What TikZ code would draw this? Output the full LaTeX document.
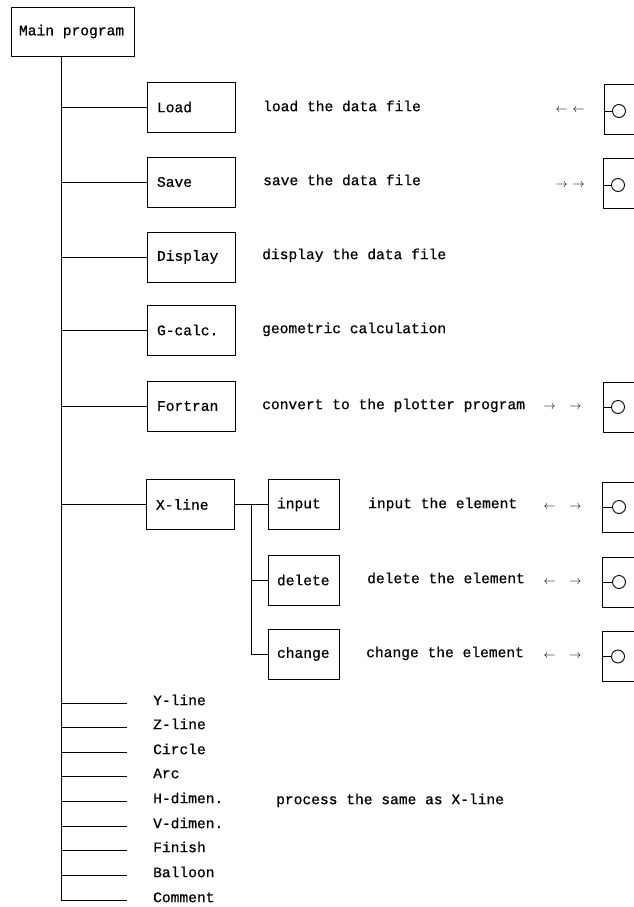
\documentclass[tikz,border=0pt]{standalone}
\usepackage{fontspec}
\newfontfamily\pmono[FakeBold=0.6]{Liberation Mono}
\newcommand\lbx[2]{\makebox[#1][l]{#2}}
\begin{document}
\begin{tikzpicture}[x=1pt,y=-1pt,
  every node/.style={font=\pmono\fontsize{14.6}{17}\selectfont},
  wire/.style={line width=0.9pt},
  box/.style={draw,line width=0.9pt,rectangle,minimum height=50pt,inner xsep=10pt},
  subbox/.style={box,inner xsep=9pt},
  mainbox/.style={box,inner xsep=8pt,minimum height=49pt},
  desc/.style={anchor=mid west,inner sep=0pt},
  arr/.style={anchor=center,inner sep=0pt,font=\fontsize{13}{15}\selectfont},
  rbox/.style={draw,line width=0.9pt,rectangle,minimum width=60pt,minimum height=50pt,anchor=west,inner sep=0pt},
  port/.style={draw,circle,line width=0.9pt,minimum size=13pt,inner sep=0pt}
]
\useasboundingbox (0,0) rectangle (634,907);
\clip (0,0) rectangle (634,907);

% main box and trunk
\node[mainbox] (main) at (72.5,31.5) {\lbx{107pt}{Main program}};
\coordinate (tbot) at (61,899);

% first-level boxes
\node[box] (load)  at (191,107) {\lbx{68pt}{Load}};
\node[box] (save)  at (191,182) {\lbx{68pt}{Save}};
\node[box] (disp)  at (191,257) {\lbx{68pt}{Display}};
\node[box] (gcalc) at (191,330) {\lbx{68pt}{G-calc.}};
\node[box] (fort)  at (191,406) {\lbx{68pt}{Fortran}};
\node[box] (xline) at (190,504.5) {\lbx{68pt}{X-line}};

% X-line sub boxes
\node[subbox] (input)  at (303.5,504.5) {\lbx{53pt}{input}};
\node[subbox] (delete) at (303.5,580) {\lbx{53pt}{delete}};
\node[subbox] (change) at (303.5,654) {\lbx{53pt}{change}};
\coordinate (sbot) at (251,654);

% descriptions
\node[desc] (dload)   at (263,109) {load the data file};
\node[desc] (dsave)   at (263,183) {save the data file};
\node[desc] (ddisp)   at (262,257) {display the data file};
\node[desc] (dgcalc)  at (262,331) {geometric calculation};
\node[desc] (dfort)   at (262,407) {convert to the plotter program};
\node[desc] (dinput)  at (368,506) {input the element};
\node[desc] (ddelete) at (367,581) {delete the element};
\node[desc] (dchange) at (366,655) {change the element};
\node[desc] (dsame)   at (276,802) {process the same as X-line};

% arrows
\node[arr] (aload)   at (570,110) {$\leftarrow$\hspace{5pt}$\leftarrow$};
\node[arr] (asave)   at (570,185) {$\rightarrow$\hspace{5pt}$\rightarrow$};
\node[arr] (afort)   at (562.5,407) {$\rightarrow$\hspace{14pt}$\rightarrow$};
\node[arr] (ainput)  at (562.5,507) {$\leftarrow$\hspace{14pt}$\rightarrow$};
\node[arr] (adelete) at (562.5,582) {$\leftarrow$\hspace{14pt}$\rightarrow$};
\node[arr] (achange) at (562.5,656) {$\leftarrow$\hspace{14pt}$\rightarrow$};

% right-side device boxes
\node[rbox] (rload)   at (604,109) {};
\node[port] (pload)   at (619,111) {};
\node[rbox] (rsave)   at (603,183.5) {};
\node[port] (psave)   at (618,185) {};
\node[rbox] (rfort)   at (603,407) {};
\node[port] (pfort)   at (618,407) {};
\node[rbox] (rinput)  at (602,507) {};
\node[port] (pinput)  at (619,507) {};
\node[rbox] (rdelete) at (602,582) {};
\node[port] (pdelete) at (619,582) {};
\node[rbox] (rchange) at (602,656.5) {};
\node[port] (pchange) at (618,656.5) {};
\foreach \r/\p in {rload/pload,rsave/psave,rfort/pfort,rinput/pinput,rdelete/pdelete,rchange/pchange}
  \draw[wire] (\r.west |- \p.west) -- (\p.west);

% bottom list
\node[desc] (ylab) at (153,703) {Y-line};
\node[desc] (zlab) at (153,727) {Z-line};
\node[desc] (circ) at (153,752) {Circle};
\node[desc] (arc)  at (153,776) {Arc};
\node[desc] (hdim) at (153,801) {H-dimen.};
\node[desc] (vdim) at (153,826) {V-dimen.};
\node[desc] (fin)  at (153,850) {Finish};
\node[desc] (ball) at (153,875) {Balloon};
\node[desc] (comm) at (153,900) {Comment};

% trunk and branches
\draw[wire] (main.south -| tbot) -- (tbot |- comm.mid west) -- ([xshift=-26pt]comm.mid west);
\foreach \n in {load,save,disp,gcalc,fort,xline}
  \draw[wire] (\n.west -| tbot) -- (\n.west);
\foreach \n in {ylab,zlab,circ,arc,hdim,vdim,fin,ball}
  \draw[wire] (\n.mid west -| tbot) -- ([xshift=-26pt]\n.mid west);

% X-line sub tree
\draw[wire] (xline.east) -- (input.west);
\draw[wire] (xline.east -| sbot) -- (sbot |- change.west) -- (change.west);
\draw[wire] (delete.west -| sbot) -- (delete.west);
\end{tikzpicture}
\end{document}
